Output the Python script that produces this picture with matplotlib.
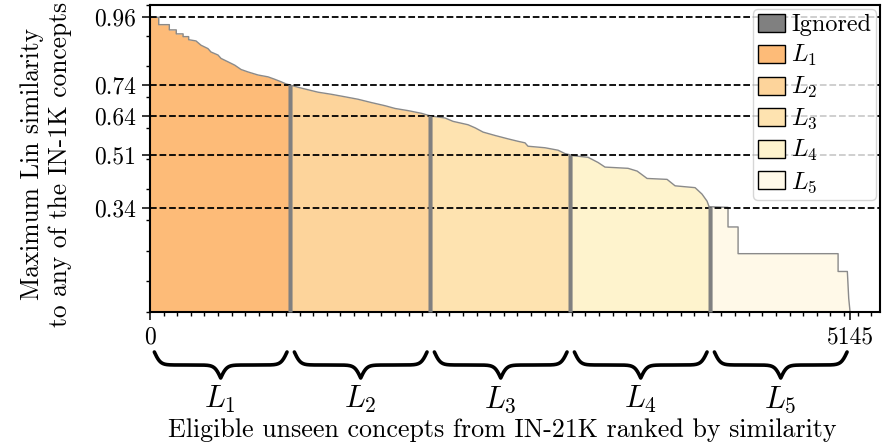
import matplotlib
matplotlib.use('Agg')
import matplotlib.pyplot as plt
import matplotlib.transforms as mtransforms
from matplotlib.patches import Patch
import numpy as np

plt.rcParams['font.family'] = 'serif'
plt.rcParams['font.serif'] = ['cmr10']
plt.rcParams['mathtext.fontset'] = 'cm'
plt.rcParams['axes.unicode_minus'] = False

# curve: rank of the concept -> max Lin similarity
rank = [0, 64, 64, 142, 142, 193, 193, 243, 243, 284, 284, 338, 375, 426, 448,
        500, 522, 573, 623, 669, 720, 794, 867, 917, 963, 1000, 1041, 1088,
        1161, 1235, 1335, 1433, 1529, 1629, 1727, 1801, 1896, 1997, 2043, 2071,
        2168, 2227, 2337, 2389, 2448, 2536, 2631, 2705, 2756, 2778, 2903, 2999,
        3050, 3087, 3111, 3219, 3293, 3344, 3513, 3580, 3638, 3653, 3800, 3859,
        4006, 4057, 4094, 4109, 4248, 4248, 4322, 4322, 5057, 5057, 5125, 5135,
        5145]
similarity = [0.96, 0.96, 0.936, 0.936, 0.919, 0.919, 0.906, 0.906, 0.897, 0.897,
              0.887, 0.883, 0.869, 0.858, 0.847, 0.837, 0.826, 0.815, 0.804, 0.790,
              0.782, 0.772, 0.766, 0.758, 0.750, 0.743, 0.738, 0.732, 0.724, 0.716,
              0.709, 0.701, 0.693, 0.682, 0.672, 0.663, 0.656, 0.647, 0.641, 0.638,
              0.632, 0.621, 0.610, 0.600, 0.586, 0.575, 0.564, 0.556, 0.551, 0.540,
              0.535, 0.527, 0.516, 0.512, 0.509, 0.504, 0.487, 0.472, 0.468, 0.459,
              0.440, 0.435, 0.432, 0.411, 0.405, 0.384, 0.361, 0.343, 0.341, 0.277,
              0.277, 0.190, 0.190, 0.132, 0.132, 0.045, 0.0]

n_concepts = 5145
level_names = ['$L_1$', '$L_2$', '$L_3$', '$L_4$', '$L_5$']
level_bounds = [0, 1029, 2058, 3087, 4116, 5145]
thresholds = [0.96, 0.74, 0.64, 0.51, 0.34]
ignored_width = 30
level_colors = ['#fdbb78', '#fdd49b', '#fee3b0', '#fef3cd', '#fff9e8']
ignored_color = '#808080'

assert len(rank) == len(similarity)
rank = np.array(rank, dtype=float)
similarity = np.array(similarity)


def curve_piece(a, b):
    inner = (rank > a) & (rank < b)
    xs = np.concatenate([[a], rank[inner], [b]])
    ys = np.concatenate([[np.interp(a, rank, similarity)], similarity[inner],
                         [np.interp(b, rank, similarity)]])
    return xs, ys


def draw_brace(ax, trans, x0, x1, y_top, height, beta):
    x = np.linspace(x0, x1, 401)
    half = x[:201]
    yh = (1 / (1 + np.exp(-beta * (half - half[0])))
          + 1 / (1 + np.exp(-beta * (half - half[-1]))))
    y = np.concatenate([yh, yh[-2::-1]])
    y = y_top - (y - 0.5) * height
    ax.plot(x, y, color='black', lw=2.6, transform=trans, clip_on=False,
            solid_capstyle='round')


fig = plt.figure(figsize=(8.84, 4.48), dpi=100)
ax = fig.add_axes([150 / 884, 1 - 312 / 448, 730 / 884, 307 / 448])

for i in range(5):
    a, b = level_bounds[i], level_bounds[i + 1]
    xs, ys = curve_piece(a, b)
    ax.fill_between(xs, 0, ys, color=level_colors[i], lw=0, zorder=1)
for b in level_bounds[1:-1]:
    xs, ys = curve_piece(b - ignored_width / 2, b + ignored_width / 2)
    ax.fill_between(xs, 0, ys, color=ignored_color, lw=0, zorder=3)

ax.plot(rank, similarity, color='#8a8a8a', lw=1.0, zorder=2)

for t in thresholds:
    ax.axhline(t, color='black', ls='--', lw=1.3, zorder=2.5)

ax.set_xlim(0, 5365)
ax.set_ylim(0, 1.0)
ax.set_xticks([0, n_concepts])
ax.set_xticks(np.arange(0, 5365, 100), minor=True)
ax.set_yticks(thresholds)
ax.set_yticklabels([f'{t:.2f}' for t in thresholds])
ax.set_yticks(np.arange(0, 1.01, 0.1), minor=True)
ax.tick_params(which='major', length=6, width=1.1, labelsize=17, pad=4)
ax.tick_params(which='minor', length=3, width=1.0)
for s in ax.spines.values():
    s.set_linewidth(1.5)

handles = [Patch(facecolor=ignored_color, edgecolor='black', label='Ignored')]
handles += [Patch(facecolor=c, edgecolor='black', label=n)
            for c, n in zip(level_colors, level_names)]
ax.legend(handles=handles, loc='upper right', fontsize=17.5, handlelength=1.1,
          handleheight=0.75, handletextpad=0.25, labelspacing=0.28,
          borderaxespad=0.15, borderpad=0.22)

trans = mtransforms.blended_transform_factory(ax.transData, fig.transFigure)
for i in range(5):
    a, b = level_bounds[i], level_bounds[i + 1]
    draw_brace(ax, trans, a + 32, b - 22, 1 - 352 / 448, 26 / 448, 0.045)
    ax.text((a + b) / 2, 1 - 408 / 448, level_names[i], transform=trans,
            ha='center', va='baseline', fontsize=22)

fig.text(502 / 884, 1 - 437 / 448, 'Eligible unseen concepts from IN-21K ranked by similarity',
         ha='center', va='baseline', fontsize=18.7)
fig.text(46 / 884, 1 - 164 / 448, 'Maximum Lin similarity\nto any of the IN-1K concepts',
         ha='center', va='center', rotation=90, multialignment='center', fontsize=18.3)

fig.savefig('out.png', dpi=100)
